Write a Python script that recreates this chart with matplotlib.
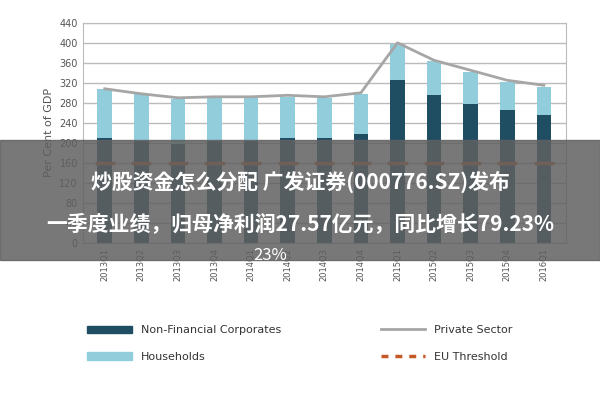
import matplotlib
matplotlib.use("Agg")
import matplotlib.pyplot as plt
from matplotlib.patches import Rectangle
from matplotlib.lines import Line2D
import numpy as np

categories = ["2013Q1","2013Q2","2013Q3","2013Q4","2014Q1","2014Q2","2014Q3","2014Q4",
              "2015Q1","2015Q2","2015Q3","2015Q4","2016Q1"]
non_fin = [210,203,197,203,203,210,210,218,325,295,278,265,255]
totals = [307,297,288,290,290,292,290,298,398,363,342,322,312]
households = [t-n for t, n in zip(totals, non_fin)]
private = [308,298,290,292,292,295,292,300,400,365,345,325,315]
eu_threshold = [160]*len(categories)
yticks = list(range(0, 441, 40))

fig = plt.figure(figsize=(6, 4), dpi=100)
ax = fig.add_axes([0.138, 0.393, 0.805, 0.55])
x = np.arange(len(categories))
dark, light = "#1f4e63", "#92cddc"
ax.bar(x, non_fin, 0.4, color=dark, zorder=2)
ax.bar(x, households, 0.4, bottom=non_fin, color=light, zorder=2)
ax.plot(x, private, color="#a6a6a6", lw=2, zorder=3)
for xi, v in zip(x, eu_threshold):
    ax.plot([xi-0.22, xi+0.22], [v, v], color="#c55a28", lw=2.5, zorder=4)
ax.set_xlim(-0.6, len(x)-0.4)
ax.set_ylim(0, 440)
ax.set_yticks(yticks)
ax.tick_params(axis="y", labelsize=7, colors="#555555", length=0)
ax.set_xticks(x)
ax.set_xticklabels(categories, rotation=90, fontsize=6, color="#555555")
ax.tick_params(axis="x", length=0)
ax.grid(axis="y", color="#bbbbbb", lw=1, zorder=0)
for s in ax.spines.values():
    s.set_color("#bbbbbb")
ax.set_ylabel("Per Cent of GDP", fontsize=8, color="#555555")

handles = [Rectangle((0,0),1,1,color=dark), Rectangle((0,0),1,1,color=light),
           Line2D([],[],color="#a6a6a6",lw=2), Line2D([],[],color="#c55a28",lw=2.5,ls=(0,(2,2)))]
labels = ["Non-Financial Corporates", "Households", "Private Sector", "EU Threshold"]
fig.legend(handles, labels, loc="lower center", bbox_to_anchor=(0.5, 0.07), ncol=2,
           frameon=False, fontsize=8, columnspacing=9, handlelength=4, labelspacing=1.5,
           labelcolor="#333333")

fig.patches.append(Rectangle((0, 0.35), 1, 0.30, transform=fig.transFigure,
                             color="#606060", alpha=0.85, zorder=10))
cjk = ["Noto Sans CJK SC", "Noto Sans CJK JP", "DejaVu Sans"]
fig.text(0.5, 0.545, "炒股资金怎么分配 广发证券(000776.SZ)发布", ha="center", va="center",
         fontsize=15, color="white", fontweight="bold", family=cjk, zorder=11)
fig.text(0.5, 0.44, "一季度业绩，归母净利润27.57亿元，同比增长79.23%", ha="center", va="center",
         fontsize=15, color="white", fontweight="bold", family=cjk, zorder=11)
fig.text(0.45, 0.36, "23%", ha="center", va="center",
         fontsize=12, color="white", family=cjk, zorder=11)
fig.savefig("out.png")
